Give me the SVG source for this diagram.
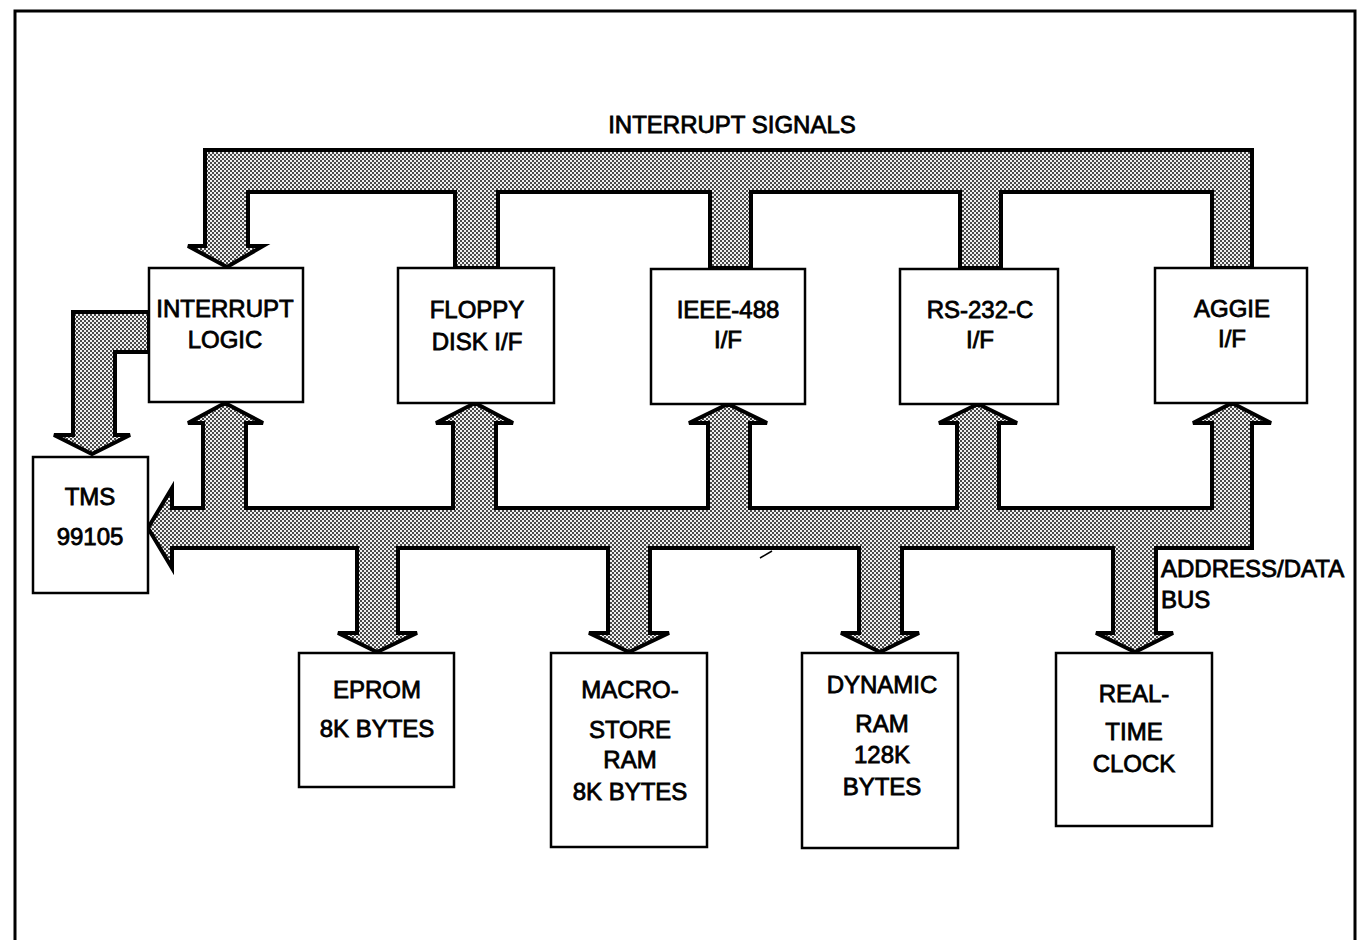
<svg xmlns="http://www.w3.org/2000/svg" width="1359" height="940" viewBox="0 0 1359 940">
<defs>
<pattern id="ht" width="4" height="4" patternUnits="userSpaceOnUse">
<rect width="4" height="4" fill="#f0f0f0"/>
<rect x="0" y="0" width="2" height="2" fill="#4a4a4a"/>
<rect x="2" y="2" width="2" height="2" fill="#4a4a4a"/>
</pattern>
</defs>
<style>
.bus{fill:url(#ht);stroke:#000;stroke-width:4;stroke-linejoin:miter}
.box{fill:#fff;stroke:#000;stroke-width:2.5}
text{font-family:"Liberation Sans",Arial,sans-serif;font-size:24px;fill:#000;stroke:#000;stroke-width:0.8;text-anchor:middle}
.lbl{text-anchor:start}
</style>
<rect width="1359" height="940" fill="#fff"/>
<path d="M15,945 L15,11 L1355,11 L1355,945" fill="none" stroke="#000" stroke-width="3"/>

<g id="connectors">
<path id="interrupt-signals" class="bus" d="M205,150 L1252,150 L1252,268 L1212,268 L1212,192 L1001,192 L1001,268 L960,268 L960,192 L751,192 L751,268 L710,268 L710,192 L498,192 L498,268 L455,268 L455,192 L248,192 L248,246 L263,246 L227,267 L188,246 L205,246 Z"/>
<path id="address-data-bus" class="bus" d="M148,528 L172,488 L172,508 L203,508 L203,423 L188,423 L225,403 L263,423 L246,423 L246,508 L453,508 L453,423 L436,423 L475,403 L513,423 L496,423 L496,508 L708,508 L708,423 L689,423 L728,404 L767,423 L750,423 L750,508 L957,508 L957,423 L939,423 L978,404 L1017,423 L999,423 L999,508 L1212,508 L1212,423 L1193,423 L1232,403 L1271,423 L1252,423 L1252,548 L1156,548 L1156,633 L1173,633 L1135,652 L1096,633 L1113,633 L1113,548 L902,548 L902,633 L919,633 L880,652 L841,633 L859,633 L859,548 L650,548 L650,633 L669,633 L629,652 L589,633 L608,633 L608,548 L398,548 L398,633 L417,633 L377,652 L338,633 L357,633 L357,548 L172,548 L172,568 Z"/>
<path id="int-to-cpu" class="bus" d="M149,312 L73,312 L73,435 L54,435 L92,454 L130,435 L115,435 L115,352 L149,352 Z"/>
<text x="732" y="133">INTERRUPT SIGNALS</text>
<text class="lbl" x="1161" y="577">ADDRESS/DATA</text>
<text class="lbl" x="1161" y="608">BUS</text>
<path d="M760,558 L772,551" stroke="#000" stroke-width="1.5"/>
</g>

<g id="interrupt-logic">
<rect class="box" x="149" y="268" width="154" height="134"/>
<text x="225" y="317">INTERRUPT</text>
<text x="225" y="348">LOGIC</text>
</g>
<g id="floppy">
<rect class="box" x="398" y="268" width="156" height="135"/>
<text x="477" y="318">FLOPPY</text>
<text x="477" y="350">DISK I/F</text>
</g>
<g id="ieee488">
<rect class="box" x="651" y="269" width="154" height="135"/>
<text x="728" y="318">IEEE-488</text>
<text x="728" y="348">I/F</text>
</g>
<g id="rs232">
<rect class="box" x="900" y="269" width="158" height="135"/>
<text x="980" y="318">RS-232-C</text>
<text x="980" y="348">I/F</text>
</g>
<g id="aggie">
<rect class="box" x="1155" y="268" width="152" height="135"/>
<text x="1232" y="317">AGGIE</text>
<text x="1232" y="347">I/F</text>
</g>
<g id="tms">
<rect class="box" x="33" y="457" width="115" height="136"/>
<text x="90" y="505">TMS</text>
<text x="90" y="545">99105</text>
</g>
<g id="eprom">
<rect class="box" x="299" y="653" width="155" height="134"/>
<text x="377" y="698">EPROM</text>
<text x="377" y="737">8K BYTES</text>
</g>
<g id="macrostore">
<rect class="box" x="551" y="653" width="156" height="194"/>
<text x="630" y="698">MACRO-</text>
<text x="630" y="738">STORE</text>
<text x="630" y="768">RAM</text>
<text x="630" y="800">8K BYTES</text>
</g>
<g id="dynamic-ram">
<rect class="box" x="802" y="653" width="156" height="195"/>
<text x="882" y="693">DYNAMIC</text>
<text x="882" y="732">RAM</text>
<text x="882" y="763">128K</text>
<text x="882" y="795">BYTES</text>
</g>
<g id="rtc">
<rect class="box" x="1056" y="653" width="156" height="173"/>
<text x="1134" y="702">REAL-</text>
<text x="1134" y="740">TIME</text>
<text x="1134" y="772">CLOCK</text>
</g>
</svg>
